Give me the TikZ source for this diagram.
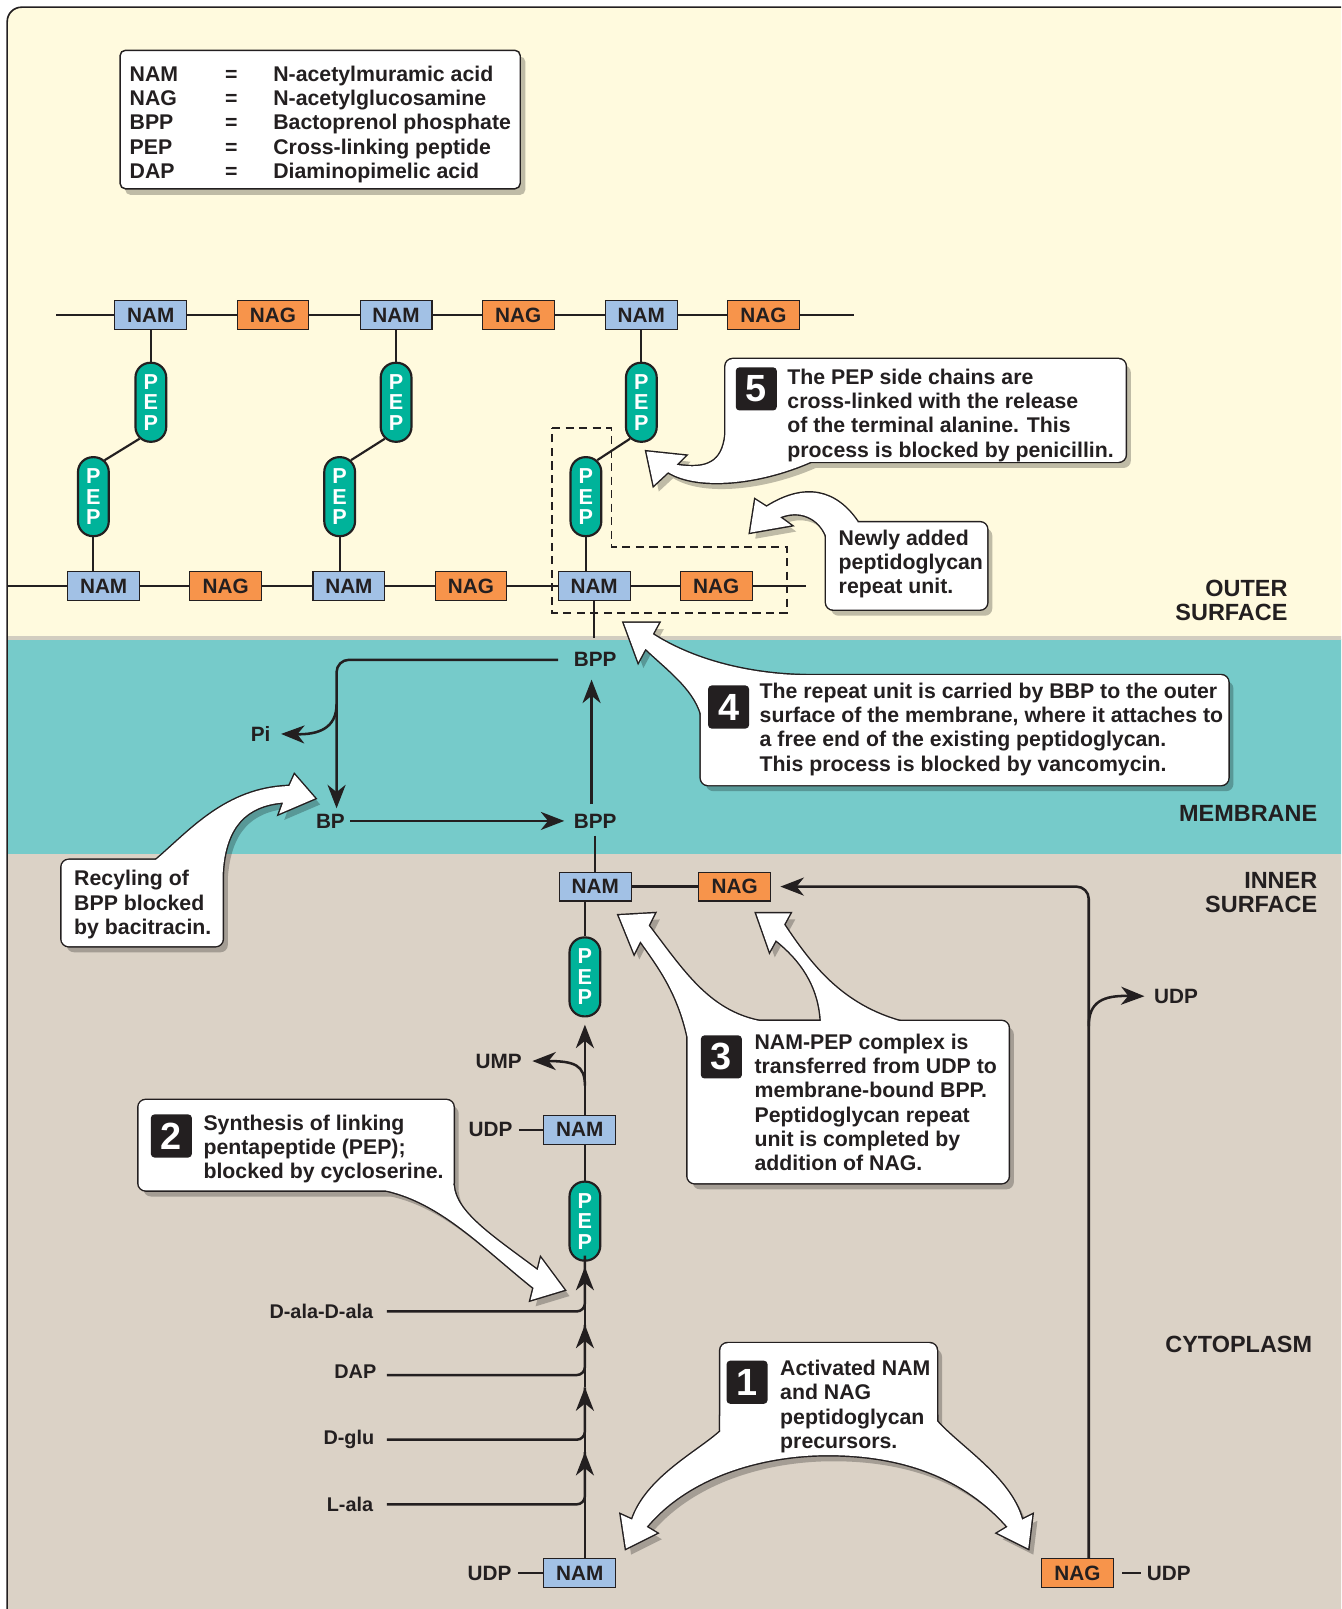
\documentclass[tikz,border=0pt]{standalone}
\usepackage{fontspec}
\setmainfont{Liberation Sans}
\usetikzlibrary{arrows.meta,positioning,calc}
\definecolor{outerbg}{RGB}{255,250,222}
\definecolor{membg}{RGB}{118,203,202}
\definecolor{cytobg}{RGB}{219,210,198}
\definecolor{sepgrey}{RGB}{210,205,192}
\definecolor{namblue}{RGB}{162,193,229}
\definecolor{nagorange}{RGB}{247,148,75}
\definecolor{pepgreen}{RGB}{0,179,154}
\definecolor{inkgrey}{RGB}{35,31,32}
\tikzset{
    nam/.style={rectangle, draw=inkgrey, line width=0.6pt, fill=namblue, minimum width=1.4cm, minimum height=0.56cm, inner sep=0pt, font=\fontsize{11.5}{12}\selectfont\bfseries},
    nag/.style={nam, fill=nagorange},
    pep/.style={rectangle, rounded corners=0.29cm, draw=inkgrey, line width=1.2pt, fill=pepgreen, minimum width=0.6cm, minimum height=1.54cm, inner sep=0pt, align=center, text=white, font=\fontsize{12}{11.4}\selectfont\bfseries},
    chain/.style={line width=1.4pt, draw=inkgrey},
    link/.style={line width=1.2pt, draw=inkgrey},
    flow/.style={line width=1.4pt, draw=inkgrey},
    arr/.style={flow, -{Stealth[length=13pt,width=10pt,inset=4pt]}},
    dashbox/.style={draw=inkgrey, line width=1pt, dash pattern=on 4.5pt off 3pt},
    lbl/.style={inner sep=0pt, font=\fontsize{11.5}{12}\selectfont\bfseries},
    aminolbl/.style={inner sep=0pt, anchor=east, font=\fontsize{11}{12}\selectfont\bfseries},
    region/.style={inner sep=0pt, align=right, font=\fontsize{13}{13.1}\selectfont\bfseries},
    note/.style={inner sep=0pt, align=left, anchor=north west, font=\fontsize{11.8}{13.5}\selectfont\bfseries},
    numbox/.style={fill=inkgrey, rounded corners=2pt, minimum width=0.8cm, minimum height=0.84cm, inner sep=0pt, text=white, font=\fontsize{21}{21}\selectfont\bfseries},
    bubline/.style={draw=inkgrey, line width=1.6pt},
}
\newcommand{\bubble}[2]{%
  \begin{scope}[transparency group, opacity=0.25]
    \fill[black, shift={(5,6)}] #1; \fill[black, shift={(5,6)}] #2;
  \end{scope}
  \draw[bubline] #1; \draw[bubline] #2;
  \fill[white] #1; \fill[white] #2;
}

\begin{document}
\begin{tikzpicture}[x=0.02cm, y=-0.02cm, text=inkgrey, font=\bfseries]
    \useasboundingbox (0,0) rectangle (1307,1568);
    \clip (0,0) rectangle (1307,1568);
    % regions
    \fill[outerbg, rounded corners=8pt] (7,640) -- (7,7) -- (1330,7) -- (1330,640) -- cycle;
    \fill[membg] (7,623) rectangle (1330,832);
    \fill[sepgrey] (7,620) rectangle (1330,624);
    \fill[cytobg] (7,832) rectangle (1330,1580);
    \draw[line width=0.9pt, draw=inkgrey, rounded corners=8pt] (7,1580) -- (7,7) -- (1330,7);

    % legend
    \begin{scope}[transparency group, opacity=0.25]
        \fill[black, shift={(5,6)}, rounded corners=3pt] (117,49) rectangle (507,184);
    \end{scope}
    \draw[fill=white, draw=inkgrey, line width=0.8pt, rounded corners=3pt] (117,49) rectangle (507,184);
    \node[note] (legtxt) at (126,62) {\begin{tabular}{@{}p{1.86cm}@{}c@{\hspace{0.7cm}}l@{}}
        NAM & = & N-acetylmuramic acid\\
        NAG & = & N-acetylglucosamine\\
        BPP & = & Bactoprenol phosphate\\
        PEP & = & Cross-linking peptide\\
        DAP & = & Diaminopimelic acid
    \end{tabular}};

    % existing peptidoglycan
    \coordinate (tl) at (55,307);
    \coordinate (tr) at (832,307);
    \node[nam] (tnam1) at (147,307) {NAM};
    \node[nag] (tnag1) at (266,307) {NAG};
    \node[nam] (tnam2) at (386,307) {NAM};
    \node[nag] (tnag2) at (505,307) {NAG};
    \node[nam] (tnam3) at (625,307) {NAM};
    \node[nag] (tnag3) at (744,307) {NAG};
    \draw[chain] (tl) -- (tnam1) -- (tnag1) -- (tnam2) -- (tnag2) -- (tnam3) -- (tnag3) -- (tr);

    \coordinate (bl) at (7,571);
    \coordinate (br) at (785,571);
    \node[nam] (bnam1) at (101,571) {NAM};
    \node[nag] (bnag1) at (220,571) {NAG};
    \node[nam] (bnam2) at (340,571) {NAM};
    \node[nag] (bnag2) at (459,571) {NAG};
    \node[nam] (bnam3) at (579,571) {NAM};
    \node[nag] (bnag3) at (698,571) {NAG};
    \draw[chain] (bl) -- (bnam1) -- (bnag1) -- (bnam2) -- (bnag2) -- (bnam3) -- (bnag3) -- (br);

    \node[pep] (tpep1) at (147,392) {P\\E\\P};
    \node[pep] (tpep2) at (386,392) {P\\E\\P};
    \node[pep] (tpep3) at (625,392) {P\\E\\P};
    \node[pep] (bpep1) at (91,484) {P\\E\\P};
    \node[pep] (bpep2) at (331,484) {P\\E\\P};
    \node[pep] (bpep3) at (571,484) {P\\E\\P};
    \draw[link] (tnam1) -- (tpep1);
    \draw[link] (tnam2) -- (tpep2);
    \draw[link] (tnam3) -- (tpep3);
    \draw[link] ([shift={(-11,-4)}]tpep1.south) -- ([shift={(11,4)}]bpep1.north);
    \draw[link] ([shift={(-11,-4)}]tpep2.south) -- ([shift={(11,4)}]bpep2.north);
    \draw[link] ([shift={(-11,-4)}]tpep3.south) -- ([shift={(11,4)}]bpep3.north);
    \draw[link] (bpep1) -- (bpep1 |- bnam1.north);
    \draw[link] (bpep2) -- (bpep2 |- bnam2.north);
    \draw[link] (bpep3) -- (bpep3 |- bnam3.north);
    \draw[dashbox] (538,417) -- (596,417) -- (596,533) -- (767,533) -- (767,597) -- (538,597) -- cycle;

    % membrane
    \coordinate (memtop) at (579,622);
    \node[lbl] (bppT) at (580,643) {BPP};
    \node[lbl] (bppB) at (580,800) {BPP};
    \node[lbl] (bp) at (322,800) {BP};
    \node[lbl] (pi) at (254,715) {Pi};
    \coordinate (pibr) at (328,686);
    \draw[flow] (bnam3) -- (memtop);
    \draw[arr, shorten <=0.18cm, shorten >=0.24cm] ([xshift=-2pt]bppB.north) -- ([xshift=-2pt]bppT.south);
    \draw[arr, rounded corners=0.24cm, shorten <=0.3cm, shorten >=0.1cm] (bppT.west) -| ([shift={(6,0)}]bp.north);
    \draw[arr, shorten >=0.2cm] (pibr) .. controls (328,710) and (310,716) .. (pi.east);
    \draw[arr, shorten <=0.1cm, shorten >=0.18cm] (bp.east) -- (bppB.west);

    % inner surface
    \node[nam] (inam) at (580,864) {NAM};
    \node[nag] (inag) at (716,864) {NAG};
    \draw[chain] (inam) -- (inag);
    \draw[flow, shorten <=0.14cm] (bppB) -- (bppB |- inam.north);
    \node[pep] (ipep) at (570,952) {P\\E\\P};
    \draw[link] (ipep.north |- inam.south) -- (ipep);

    \node[nam] (mnam) at (565,1101) {NAM};
    \node[lbl] (udp2) at (478,1101) {UDP};
    \node[lbl] (ump) at (486,1034) {UMP};
    \coordinate (umpbr) at (570,1058);
    \draw[link, shorten <=0.12cm] (udp2) -- (mnam);
    \draw[arr, shorten >=0.14cm] (ipep.south |- mnam.north) -- (ipep.south);
    \draw[arr, shorten >=0.2cm] (umpbr) .. controls (570,1038) and (560,1034) .. (ump.east);
    \node[pep] (lpep) at (570,1190) {P\\E\\P};
    \draw[link] (lpep.north |- mnam.south) -- (lpep);

    % pentapeptide synthesis
    \node[nam] (bnam) at (565,1533) {NAM};
    \node[lbl] (udp1) at (477,1533) {UDP};
    \draw[link, shorten <=0.12cm] (udp1) -- (bnam);
    \coordinate (tip1) at (570,1415);
    \coordinate (tip2) at (570,1352);
    \coordinate (tip3) at (570,1291);
    \draw[arr] (bnam.north -| tip1) -- (tip1);
    \draw[arr] (tip1) -- (tip2);
    \draw[arr] (tip2) -- (tip3);
    \draw[arr, shorten >=0.1cm] (tip3) -- (lpep.south);
    \node[aminolbl] (lala) at (364,1466) {L-ala};
    \node[aminolbl] (dglu) at (365,1403) {D-glu};
    \node[aminolbl] (dap) at (367,1337) {DAP};
    \node[aminolbl] (dala) at (364,1278) {D-ala-D-ala};
    \draw[flow, rounded corners=0.16cm] ([shift={(13,0)}]lala.east) -| (tip1);
    \draw[flow, rounded corners=0.16cm] ([shift={(12,0)}]dglu.east) -| (tip2);
    \draw[flow, rounded corners=0.16cm] ([shift={(10,3)}]dap.east) -| (tip3);
    \draw[flow, rounded corners=0.16cm] ([shift={(13,0)}]dala.east) -| ([shift={(0,-6)}]lpep.south);

    % NAG branch
    \node[nag] (bnagr) at (1050,1533) {NAG};
    \node[lbl] (udp4) at (1139,1533) {UDP};
    \node[lbl] (udp3) at (1146,971) {UDP};
    \coordinate (udpbr) at (1061,1000);
    \draw[link, shorten <=0.16cm, shorten >=0.1cm] (bnagr) -- (udp4);
    \draw[arr, rounded corners=0.24cm, shorten >=0.18cm] ([shift={(11,0)}]bnagr.north) |- (inag.east);
    \draw[arr, shorten >=0.18cm] (udpbr) .. controls (1061,976) and (1075,970) .. (udp3.west);

    % regions
    \node[region, anchor=north east] (outer) at (1255,565) {OUTER\\SURFACE};
    \node[region, anchor=east] (mem) at (1284,793) {MEMBRANE};
    \node[region, anchor=north east] (inner) at (1284,850) {INNER\\SURFACE};
    \node[region, anchor=east] (cyto) at (1279,1310) {CYTOPLASM};

    % callouts
    \bubble{[rounded corners=4pt] (707,350) rectangle (1097,450)}
           {(707,424) .. controls (704,450) and (690,458) .. (659,453) -- (668,444) -- (630,440) -- (637,473) -- (651,460) .. controls (680,478) and (740,472) .. (790,450) -- (790,440) -- (712,430) -- cycle}
    \node[numbox] (n5) at (737,379) {5};
    \node[note] (t5) at (767,359) {The PEP side chains are\\cross-linked with the release\\of the terminal alanine. This\\process is blocked by penicillin.};

    \bubble{[rounded corners=4pt] (805,509) rectangle (962,594)}
           {(836,509) .. controls (815,478) and (785,470) .. (747,494) -- (736,487) -- (731,519) -- (771,512) -- (760,504) .. controls (780,496) and (798,505) .. (805,522) -- (820,520) -- cycle}
    \node[note] (tnew) at (817,516) {Newly added\\peptidoglycan\\repeat unit.};

    \bubble{[rounded corners=4pt] (683,658) rectangle (1197,765)}
           {(780,658) .. controls (720,656) and (670,640) .. (636,618) -- (642,607) -- (608,607) -- (622,645) -- (629,632) .. controls (650,652) and (675,670) .. (683,695) -- (700,690) -- cycle}
    \node[numbox] (n4) at (710,689) {4};
    \node[note] (t4) at (740,665) {The repeat unit is carried by BBP to the outer\\surface of the membrane, where it attaches to\\a free end of the existing peptidoglycan.\\This process is blocked by vancomycin.};

    \bubble{[rounded corners=4pt] (670,995) rectangle (983,1153)}
           {(670,1010) .. controls (660,965) and (640,940) .. (624,917) -- (618,929) -- (603,892) -- (638,890) -- (632,902) .. controls (665,945) and (690,985) .. (740,995) -- (800,995) .. controls (798,960) and (780,935) .. (756,916) -- (750,927) -- (737,890) -- (770,890) -- (764,901) .. controls (790,940) and (820,980) .. (880,996) -- (880,1010) -- cycle}
    \node[numbox] (n3) at (703,1030) {3};
    \node[note] (t3) at (735,1007) {NAM-PEP complex is\\transferred from UDP to\\membrane-bound BPP.\\Peptidoglycan repeat\\unit is completed by\\addition of NAG.};

    \bubble{[rounded corners=4pt] (135,1072) rectangle (442,1160)}
           {(442,1155) .. controls (444,1182) and (480,1205) .. (524,1238) -- (527,1226) -- (550,1257) -- (517,1267) -- (520,1255) .. controls (470,1215) and (430,1172) .. (376,1160) -- (400,1150) -- cycle}
    \node[numbox] (n2) at (167,1107) {2};
    \node[note] (t2) at (198,1086) {Synthesis of linking\\pentapeptide (PEP);\\blocked by cycloserine.};

    \bubble{[rounded corners=4pt] (60,838) rectangle (217,922)}
           {(152,838) .. controls (185,810) and (220,768) .. (282,766) -- (287,755) -- (307,778) -- (272,793) -- (276,782) .. controls (240,785) and (220,805) .. (217,850) -- (200,850) -- cycle}
    \node[note] (trec) at (72,848) {Recyling of\\BPP blocked\\by bacitracin.};

    \bubble{[rounded corners=4pt] (702,1309) rectangle (913,1400)}
           {(702,1380) -- (702,1395) .. controls (680,1415) and (630,1440) .. (616,1481) -- (605,1476) -- (610,1509) -- (640,1494) -- (630,1488) .. controls (670,1440) and (740,1418) .. (807,1418) .. controls (880,1418) and (940,1440) .. (982,1488) -- (972,1494) -- (1002,1509) -- (1006,1476) -- (996,1481) .. controls (985,1440) and (935,1410) .. (913,1385) -- (913,1380) -- cycle}
    \node[numbox] (n1) at (728,1347) {1};
    \node[note] (t1) at (760,1325) {Activated NAM\\and NAG\\peptidoglycan\\precursors.};
\end{tikzpicture}
\end{document}
